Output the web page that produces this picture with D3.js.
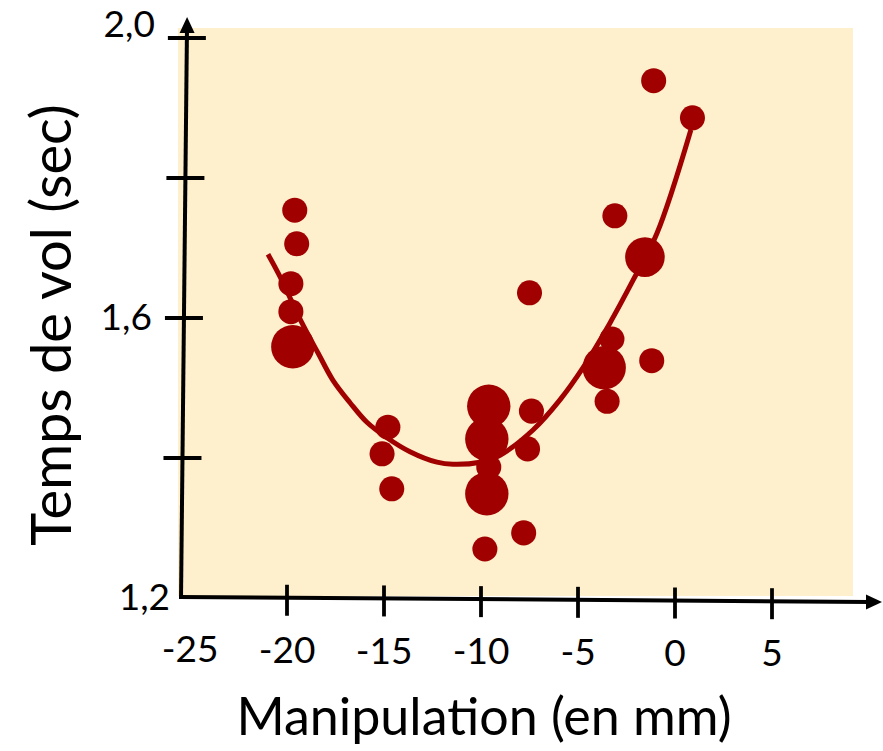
<!DOCTYPE html>
<meta charset="utf-8">
<style>

body {
  margin: 0;
  background: #fff;
}

svg text {
  font-family: Lato, "Open Sans", sans-serif;
  fill: #000;
}

.axis path {
  display: none;
}

.axis line {
  stroke: #000;
  stroke-width: 3.8px;
}

.axis text {
  font-size: 37px;
}

.title {
  font-size: 52px;
}

.title.ytitle {
  font-size: 56px;
}

.dot {
  fill: #a00000;
}

.fit {
  fill: none;
  stroke: #a00000;
  stroke-width: 5px;
}

</style>
<body>
<script src="https://d3js.org/d3.v7.min.js"></script>
<script>

// birds: manipulation (mm), flight time (sec), number of birds at that point
var manipulation = [-19.6, -19.5, -19.8, -19.8, -19.7, -14.8, -15.1, -14.6, -7.5, -9.6, -9.7, -7.4, -7.6,
                    -9.6, -9.7, -7.8, -9.8, -1.1, 0.9, -3.1, -1.55, -3.25, -3.65, -1.2, -3.5];
var flightTime   = [1.754, 1.706, 1.649, 1.609, 1.559, 1.444, 1.406, 1.356, 1.636, 1.474, 1.427, 1.467, 1.413,
                    1.387, 1.349, 1.293, 1.270, 1.939, 1.886, 1.746, 1.687, 1.570, 1.529, 1.539, 1.481];
var birdCount    = [1, 1, 1, 1, 3, 1, 1, 1, 1, 3, 3, 1, 1,
                    1, 3, 1, 1, 1, 1, 1, 2.5, 1, 3, 1, 1];

// fitted curve
var fitX = [-20.98, -20.36, -19.23, -18.40, -17.63, -16.75, -15.88, -14.85, -13.66, -12.27, -11.44,
            -10.05, -9.02, -7.32, -5.93, -4.74, -3.35, -2.16, -0.93, 0.82];
var fitY = [1.691, 1.659, 1.593, 1.550, 1.511, 1.479, 1.451, 1.429, 1.409, 1.394, 1.391,
            1.394, 1.404, 1.440, 1.483, 1.529, 1.593, 1.654, 1.721, 1.869];

var xTicks = [-25, -20, -15, -10, -5, 0, 5];
var yTicks = [1.2, 1.4, 1.6, 1.8, 2.0];
var yLabels = ["1,2", "", "1,6", "", "2,0"];

var width = 883, height = 751;

var x = d3.scaleLinear().domain([-25, 5]).range([190, 772]);
var y = d3.scaleLinear().domain([1.2, 2.0]).range([598, 38]);
var r = d3.scaleSqrt().domain([0, 3]).range([0, 21.7]);

// the axes are drawn by hand, a little crooked
function yAxisX(py) { return 181 + (598 - py) * 0.0105; }
function xAxisY(px) { return 597 + (px - 180) * 0.0071; }

var svg = d3.select("body").append("svg")
    .attr("width", width)
    .attr("height", height);

svg.append("rect")
    .attr("x", 178)
    .attr("y", 28)
    .attr("width", 853 - 178)
    .attr("height", 596 - 28)
    .attr("fill", "#fef0cd");

// fit line
var line = d3.line()
    .x(function(d) { return x(d[0]); })
    .y(function(d) { return y(d[1]); })
    .curve(d3.curveCatmullRom.alpha(0.5));

svg.append("path")
    .attr("class", "fit")
    .attr("d", line(d3.zip(fitX, fitY)));

svg.selectAll(".dot")
    .data(d3.range(manipulation.length))
  .enter().append("circle")
    .attr("class", "dot")
    .attr("cx", function(i) { return x(manipulation[i]); })
    .attr("cy", function(i) { return y(flightTime[i]); })
    .attr("r", function(i) { return r(birdCount[i]); });

// y axis
var yAxis = d3.axisLeft(y)
    .tickValues(yTicks)
    .tickSize(19)
    .tickFormat(function(d, i) { return yLabels[i]; });

var gy = svg.append("g")
    .attr("class", "axis y")
    .call(yAxis);

gy.selectAll(".tick")
    .attr("transform", function(d) { return "translate(" + yAxisX(y(d)) + "," + y(d) + ")"; });
gy.selectAll(".tick line")
    .attr("x1", 19)
    .style("display", function(d) { return d === 1.2 ? "none" : null; });
gy.selectAll(".tick text")
    .attr("x", function(d) { return d === 1.2 ? -11 : -32; })
    .attr("dy", function(d) { return d === 2.0 ? "-0.02em" : "0.32em"; });

svg.append("line")
    .attr("x1", yAxisX(598)).attr("y1", 599)
    .attr("x2", yAxisX(30)).attr("y2", 30)
    .attr("stroke", "#000").attr("stroke-width", 4);

svg.append("path")
    .attr("d", "M" + (yAxisX(18) - 7.5) + ",33L" + yAxisX(18) + ",17L" + (yAxisX(18) + 7.5) + ",33Z")
    .attr("fill", "#000");

// x axis
var xAxis = d3.axisBottom(x)
    .tickValues(xTicks)
    .tickSize(18)
    .tickFormat(function(d) { return String(d); });

var gx = svg.append("g")
    .attr("class", "axis x")
    .call(xAxis);

gx.selectAll(".tick")
    .attr("transform", function(d) { return "translate(" + x(d) + "," + xAxisY(x(d)) + ")"; });
gx.selectAll(".tick line")
    .attr("y1", -13)
    .style("display", function(d) { return d === -25 ? "none" : null; });
gx.selectAll(".tick text")
    .attr("y", 39);

svg.append("line")
    .attr("x1", 179).attr("y1", xAxisY(179))
    .attr("x2", 870).attr("y2", xAxisY(870))
    .attr("stroke", "#000").attr("stroke-width", 4);

svg.append("path")
    .attr("d", "M866," + (xAxisY(882) - 7.5) + "L882," + xAxisY(882) + "L866," + (xAxisY(882) + 7.5) + "Z")
    .attr("fill", "#000");

// titles
svg.append("text")
    .attr("class", "title")
    .attr("x", 484)
    .attr("y", 735)
    .attr("text-anchor", "middle")
    .text("Manipulation (en mm)");

svg.append("text")
    .attr("class", "title ytitle")
    .attr("transform", "translate(71,325) rotate(-90)")
    .attr("text-anchor", "middle")
    .text("Temps de vol (sec)");

</script>
